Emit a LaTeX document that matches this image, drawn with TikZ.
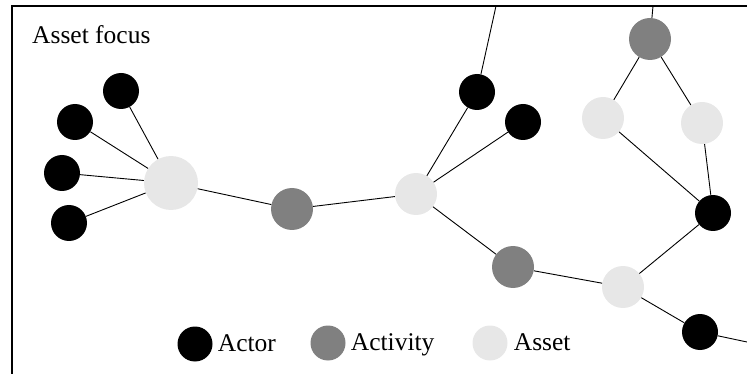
\documentclass[tikz,border=0pt]{standalone}
\usepackage{fontspec}
\setmainfont{Liberation Serif}
\usetikzlibrary{positioning}
\definecolor{actorcol}{RGB}{0,0,0}
\definecolor{activitycol}{RGB}{128,128,128}
\definecolor{assetcol}{RGB}{231,231,231}
\tikzstyle{actor} = [circle, minimum size=36pt, inner sep=0pt, fill=actorcol]
\tikzstyle{activity} = [circle, minimum size=42pt, inner sep=0pt, fill=activitycol]
\tikzstyle{asset} = [circle, minimum size=42pt, inner sep=0pt, fill=assetcol]
\tikzstyle{legenddot} = [minimum size=35pt]
\tikzstyle{link} = [line width=0.9pt]
\tikzstyle{legendtext} = [inner sep=0pt, anchor=base west, font=\fontsize{25.5}{30}\selectfont]

\begin{document}
\begin{tikzpicture}[x=1pt, y=-1pt]
\useasboundingbox (0,0) rectangle (747,374);
\draw [line width=2.4pt] (12,374) -- (12,6) -- (747,6);
\node (title) [legendtext] at (32,44) {Asset focus};
% left cluster
\node (actor1) [actor] at (121,91) {};
\node (actor2) [actor] at (75,122) {};
\node (actor3) [actor] at (62,173) {};
\node (actor4) [actor] at (69,223) {};
\node (asset1) [asset, minimum size=54pt] at (171,183) {};
\node (activity1) [activity] at (292,209) {};
% middle
\node (asset2) [asset] at (416,194) {};
\node (actor5) [actor] at (477,92) {};
\node (actor6) [actor] at (523,122) {};
\node (activity2) [activity] at (513,267) {};
\node (asset3) [asset] at (623,287) {};
\node (actor7) [actor] at (700,332) {};
% right loop
\node (activity3) [activity] at (650,39) {};
\node (asset4) [asset] at (603,118) {};
\node (asset5) [asset] at (702,123) {};
\node (actor8) [actor] at (713,213) {};
\coordinate (topA) at (496,6);
\coordinate (topB) at (653,6);
\coordinate (rightA) at (747,342);
\draw [link] (actor1) -- (asset1);
\draw [link] (actor2) -- (asset1);
\draw [link] (actor3) -- (asset1);
\draw [link] (actor4) -- (asset1);
\draw [link] (asset1) -- (activity1);
\draw [link] (activity1) -- (asset2);
\draw [link] (asset2) -- (actor5);
\draw [link] (actor5) -- (topA);
\draw [link] (asset2) -- (actor6);
\draw [link] (asset2) -- (activity2);
\draw [link] (activity2) -- (asset3);
\draw [link] (asset3) -- (actor7);
\draw [link] (actor7) -- (rightA);
\draw [link] (asset3) -- (actor8);
\draw [link] (actor8) -- (asset4);
\draw [link] (actor8) -- (asset5);
\draw [link] (asset4) -- (activity3);
\draw [link] (asset5) -- (activity3);
\draw [link] (activity3) -- (topB);
% legend
\node (lactor) [actor, legenddot] at (195,344) {};
\node (lactortxt) [legendtext] at ([xshift=5pt, yshift=-7pt] lactor.east) {Actor};
\node (lactivity) [activity, legenddot] at (328,343) {};
\node (lactivitytxt) [legendtext] at ([xshift=5pt, yshift=-7pt] lactivity.east) {Activity};
\node (lasset) [asset, legenddot] at (490,343) {};
\node (lassettxt) [legendtext] at ([xshift=6pt, yshift=-7pt] lasset.east) {Asset};
\end{tikzpicture}
\end{document}
